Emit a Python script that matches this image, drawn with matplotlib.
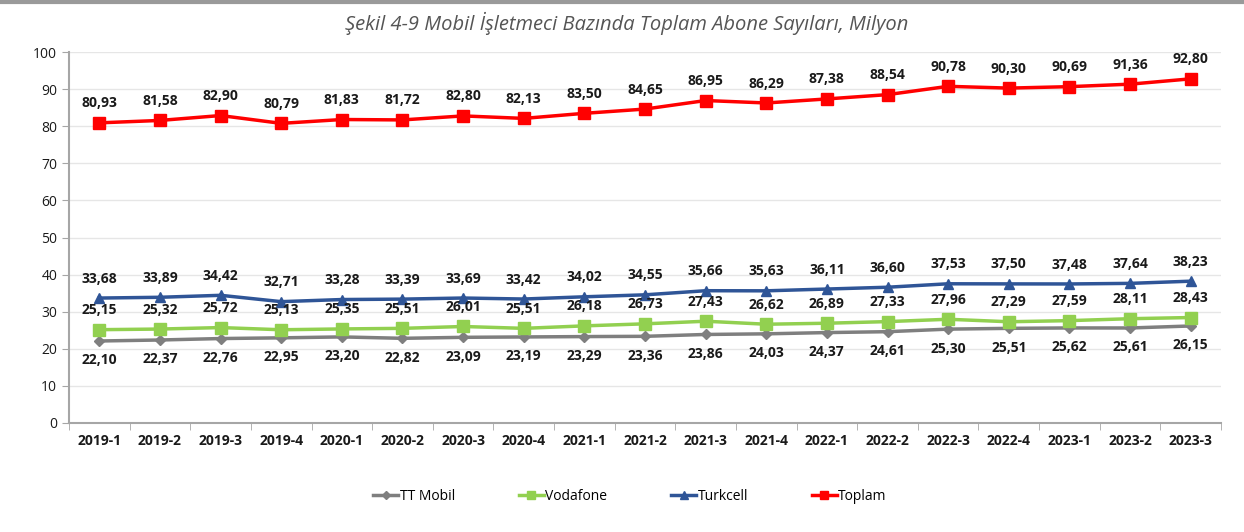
import numpy as np
import matplotlib.pyplot as plt

donemler = ["2019-1", "2019-2", "2019-3", "2019-4", "2020-1", "2020-2", "2020-3", "2020-4",
            "2021-1", "2021-2", "2021-3", "2021-4", "2022-1", "2022-2", "2022-3", "2022-4",
            "2023-1", "2023-2", "2023-3"]
tt_mobil = [22.10, 22.37, 22.76, 22.95, 23.20, 22.82, 23.09, 23.19, 23.29, 23.36,
            23.86, 24.03, 24.37, 24.61, 25.30, 25.51, 25.62, 25.61, 26.15]
vodafone = [25.15, 25.32, 25.72, 25.13, 25.35, 25.51, 26.01, 25.51, 26.18, 26.73,
            27.43, 26.62, 26.89, 27.33, 27.96, 27.29, 27.59, 28.11, 28.43]
turkcell = [33.68, 33.89, 34.42, 32.71, 33.28, 33.39, 33.69, 33.42, 34.02, 34.55,
            35.66, 35.63, 36.11, 36.60, 37.53, 37.50, 37.48, 37.64, 38.23]
toplam = [80.93, 81.58, 82.90, 80.79, 81.83, 81.72, 82.80, 82.13, 83.50, 84.65,
          86.95, 86.29, 87.38, 88.54, 90.78, 90.30, 90.69, 91.36, 92.80]

plt.rcParams['font.family'] = ['Open Sans', 'DejaVu Sans']

fig = plt.figure(figsize=(12.44, 5.32), dpi=100)
ax = fig.add_axes([0.0555, 0.205, 0.926, 0.697])
x = np.arange(len(donemler))

ax.plot(x, tt_mobil, color='#7f7f7f', lw=2.5, marker='D', ms=5, label='TT Mobil')
ax.plot(x, vodafone, color='#92d050', lw=2.5, marker='s', ms=8, label='Vodafone')
ax.plot(x, turkcell, color='#2f5597', lw=2.5, marker='^', ms=7, label='Turkcell')
ax.plot(x, toplam, color='#ff0000', lw=2.5, marker='s', ms=8, label='Toplam')

def etiket(vals, dy):
    for i, v in enumerate(vals):
        ax.annotate(f"{v:.2f}".replace('.', ','), (x[i], v), xytext=(0, dy),
                    textcoords='offset points', ha='center', va='center',
                    fontsize=10, fontweight='bold', color='#1a1a1a')

etiket(tt_mobil, -14)
etiket(vodafone, 14)
etiket(turkcell, 14)
etiket(toplam, 14)

ax.set_ylim(0, 100)
ax.set_yticks(range(0, 101, 10))
ax.set_xlim(-0.5, len(donemler) - 0.5)
ax.set_xticks(x)
ax.set_xticklabels(donemler, fontsize=10, fontweight='bold', color='#1a1a1a')
ax.set_xticks(np.arange(-0.5, len(donemler), 1), minor=True)
ax.tick_params(axis='x', which='major', length=0, pad=8)
ax.tick_params(axis='x', which='minor', length=5, color='#a6a6a6')
ax.tick_params(axis='y', length=5, color='#a6a6a6', labelsize=10, labelcolor='#1a1a1a')
ax.grid(axis='y', color='#e6e6e6', lw=1)
ax.set_axisbelow(True)
for s in ['top', 'right']:
    ax.spines[s].set_visible(False)
ax.spines['left'].set_color('#a6a6a6')
ax.spines['bottom'].set_color('#a6a6a6')
ax.spines['left'].set_linewidth(1.5)
ax.spines['bottom'].set_linewidth(1.5)

fig.suptitle("Şekil 4-9 Mobil İşletmeci Bazında Toplam Abone Sayıları, Milyon",
             x=0.504, y=0.978, fontsize=14.5, style='italic', color='#555555')
fig.add_artist(plt.Line2D([0, 1], [0.997, 0.997], color='#9a9a9a', lw=3))

ax.legend(loc='upper center', bbox_to_anchor=(0.487, -0.145), ncol=4, frameon=False,
          fontsize=10, columnspacing=4.6, handlelength=1.8, handletextpad=0.1,
          markerscale=0.8)

fig.savefig('out.png', dpi=100)
